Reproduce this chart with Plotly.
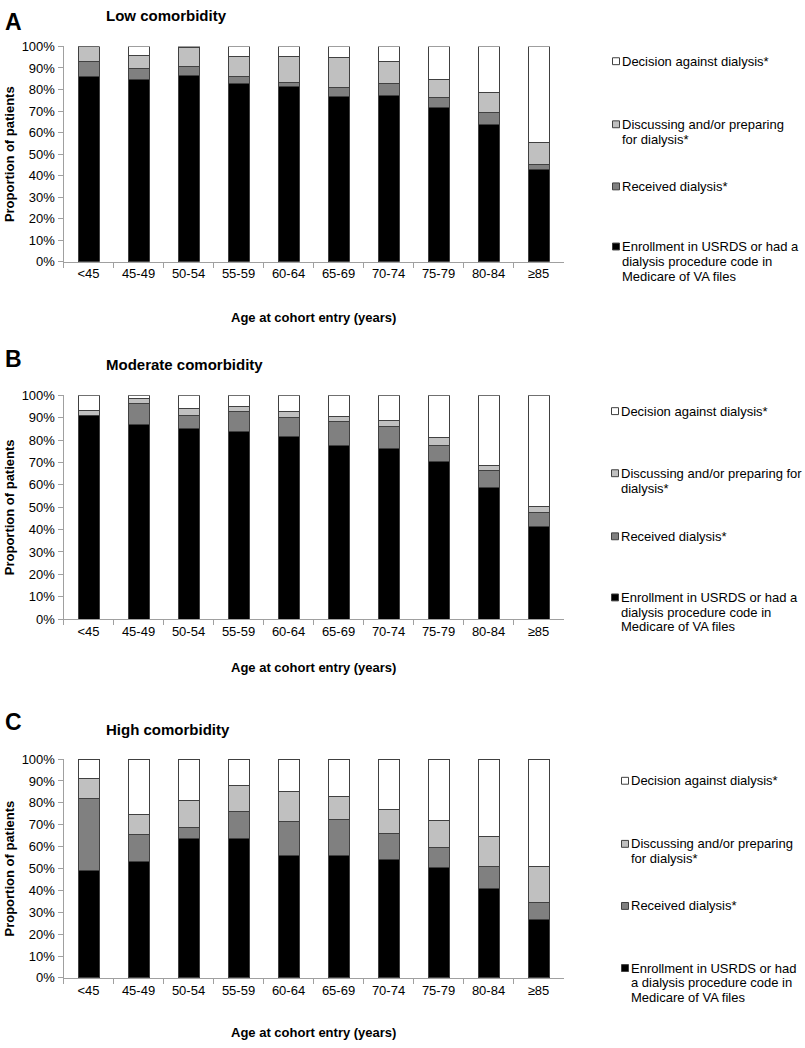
import plotly.graph_objects as go

categories = ["<45", "45-49", "50-54", "55-59", "60-64", "65-69", "70-74", "75-79", "80-84", "≥85"]

series_names = [
    "Enrollment in USRDS or had a dialysis procedure code in Medicare of VA files",
    "Received dialysis*",
    "Discussing and/or preparing for dialysis*",
    "Decision against dialysis*",
]
series_colors = ["#000000", "#808080", "#c0c0c0", "#ffffff"]

# Panel A - Low comorbidity (segment heights, %)
low_enroll = [86.0, 84.8, 86.3, 83.0, 81.3, 76.9, 77.4, 71.7, 63.8, 42.9]
low_received = [7.0, 4.9, 4.6, 3.0, 2.1, 3.8, 5.6, 4.7, 5.3, 2.4]
low_discuss = [7.0, 6.3, 8.6, 9.3, 12.0, 14.1, 9.9, 8.3, 9.3, 10.3]
low_decision = [0.0, 4.0, 0.5, 4.7, 4.6, 5.2, 7.1, 15.3, 21.6, 44.4]

# Panel B - Moderate comorbidity
mod_enroll = [90.8, 86.8, 85.0, 83.9, 81.5, 77.7, 76.2, 70.5, 58.9, 41.3]
mod_received = [0.2, 9.4, 6.2, 8.8, 8.8, 10.6, 9.7, 7.2, 7.7, 6.5]
mod_discuss = [2.3, 2.3, 2.9, 2.3, 2.7, 2.3, 3.0, 3.4, 1.9, 2.5]
mod_decision = [6.7, 1.5, 5.9, 5.0, 7.0, 9.4, 11.1, 18.9, 31.5, 49.7]

# Panel C - High comorbidity
high_enroll = [49.1, 53.3, 63.8, 63.8, 56.0, 56.1, 54.3, 50.6, 40.7, 26.8]
high_received = [32.9, 12.3, 4.8, 12.1, 15.3, 16.5, 11.9, 9.0, 10.3, 7.8]
high_discuss = [9.0, 9.0, 12.5, 12.0, 13.7, 10.2, 10.9, 12.4, 13.7, 16.4]
high_decision = [9.0, 25.4, 18.9, 12.1, 15.0, 17.2, 22.9, 28.0, 35.3, 49.0]

panel_letters = ["A", "B", "C"]
panel_titles = ["Low comorbidity", "Moderate comorbidity", "High comorbidity"]
panel_data = [
    [low_enroll, low_received, low_discuss, low_decision],
    [mod_enroll, mod_received, mod_discuss, mod_decision],
    [high_enroll, high_received, high_discuss, high_decision],
]
y_ticks = [0, 10, 20, 30, 40, 50, 60, 70, 80, 90, 100]

legend_text = [
    [["Decision against dialysis*"],
     ["Discussing and/or preparing", "for dialysis*"],
     ["Received dialysis*"],
     ["Enrollment in USRDS or had a", "dialysis procedure code in", "Medicare of VA files"]],
    [["Decision against dialysis*"],
     ["Discussing and/or preparing for", "dialysis*"],
     ["Received dialysis*"],
     ["Enrollment in USRDS or had a", "dialysis procedure code in", "Medicare of VA files"]],
    [["Decision against dialysis*"],
     ["Discussing and/or preparing", "for dialysis*"],
     ["Received dialysis*"],
     ["Enrollment in USRDS or had", "a dialysis procedure code in", "Medicare of VA files"]],
]
legend_colors = ["#ffffff", "#c0c0c0", "#808080", "#000000"]

W, H = 805, 1048
FONT = "Arial, Liberation Sans, sans-serif"

# layout geometry (pixels)
plot_x0, plot_x1 = 63.5, 563.5
panel_y = [(40, 258.5), (394, 621), (763, 985)]
letter_y = [15, 357, 725]
title_y = [9, 363, 733]
xtitle_y = [315, 670, 1040]
legend_y = [[55, 119, 182, 243], [410, 473, 537, 599], [785, 849, 912, 975]]
legend_x = [621, 620, 630]


def px(x):
    return x / W


def py(y):
    return 1 - y / H


fig = go.Figure()
layout = dict(
    width=W, height=H,
    margin=dict(l=0, r=0, t=0, b=0),
    paper_bgcolor="white", plot_bgcolor="white",
    barmode="stack", bargap=0.58,
    showlegend=False,
    font=dict(family=FONT, color="#000000", size=13),
)
annotations = []
shapes = []

for p in range(3):
    sfx = "" if p == 0 else str(p + 1)
    xa, ya = "x" + sfx, "y" + sfx
    for s in range(4):
        fig.add_trace(go.Bar(
            x=categories, y=panel_data[p][s], name=series_names[s],
            marker=dict(color=series_colors[s], line=dict(color="#404040", width=1)),
            xaxis=xa, yaxis=ya, showlegend=False,
        ))
    y0, y1 = panel_y[p]
    layout["xaxis" + sfx] = dict(
        domain=[px(plot_x0), px(plot_x1)], anchor=ya, type="category",
        showline=True, linecolor="#a0a0a0", linewidth=1,
        ticks="outside", tickson="boundaries", ticklen=5, tickcolor="#a0a0a0",
        showgrid=False, zeroline=False, tickfont=dict(size=13, color="#000000"),
        fixedrange=True,
    )
    layout["yaxis" + sfx] = dict(
        domain=[py(y1), py(y0)], anchor=xa, range=[0, 100],
        tickvals=y_ticks, ticktext=[f"{v}%" for v in y_ticks],
        showline=True, linecolor="#a0a0a0", linewidth=1,
        ticks="outside", ticklen=5, tickcolor="#a0a0a0",
        showgrid=False, zeroline=False, tickfont=dict(size=13, color="#000000"),
        fixedrange=True,
    )
    # panel letter & title
    annotations.append(dict(text=f"<b>{panel_letters[p]}</b>", x=px(13), y=py(letter_y[p]),
                            xref="paper", yref="paper", xanchor="center", yanchor="middle",
                            showarrow=False, font=dict(size=23, family=FONT)))
    annotations.append(dict(text=f"<b>{panel_titles[p]}</b>", x=px(104), y=py(title_y[p]),
                            xref="paper", yref="paper", xanchor="left", yanchor="middle",
                            showarrow=False, font=dict(size=15, family=FONT)))
    # axis titles
    annotations.append(dict(text="<b>Proportion of patients</b>", x=px(9), y=py((y0 + y1) / 2),
                            xref="paper", yref="paper", xanchor="center", yanchor="middle",
                            textangle=-90, showarrow=False, font=dict(size=13, family=FONT)))
    annotations.append(dict(text="<b>Age at cohort entry (years)</b>", x=px((plot_x0 + plot_x1) / 2),
                            y=py(xtitle_y[p]), xref="paper", yref="paper",
                            xanchor="center", yanchor="middle", showarrow=False,
                            font=dict(size=13, family=FONT)))
    # legend
    for k in range(4):
        yy = legend_y[p][k]
        cx = legend_x[p] - 5
        shapes.append(dict(type="rect", xref="paper", yref="paper",
                           x0=px(cx - 3.5), x1=px(cx + 3.5), y0=py(yy + 3.5), y1=py(yy - 3.5),
                           fillcolor=legend_colors[k], line=dict(color="#404040", width=1)))
        for j, line in enumerate(legend_text[p][k]):
            annotations.append(dict(text=line, x=px(legend_x[p]), y=py(yy + j * 15),
                                    xref="paper", yref="paper", xanchor="left", yanchor="middle",
                                    borderpad=0, showarrow=False,
                                    font=dict(size=13, family=FONT, color="#000000")))

layout["annotations"] = annotations
layout["shapes"] = shapes
fig.update_layout(**layout)
fig.write_html(
    "out.html",
    config={"displayModeBar": False},
    post_script="document.body.style.margin='0';document.body.style.overflow='hidden';",
)
